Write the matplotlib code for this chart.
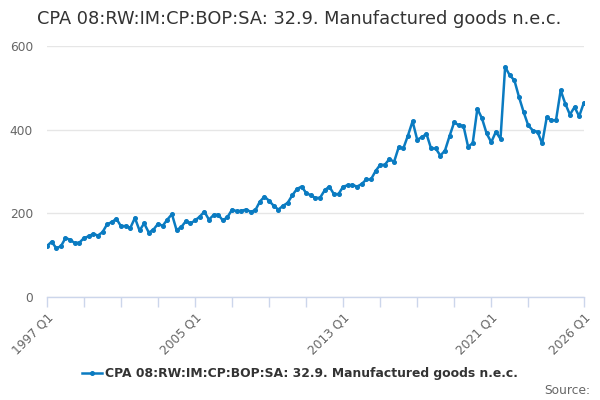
import numpy as np
import matplotlib.pyplot as plt

title = "CPA 08:RW:IM:CP:BOP:SA: 32.9. Manufactured goods n.e.c."

# quarterly periods 1997 Q1 .. 2026 Q1
periods = [f"{y} Q{q}" for y in range(1997, 2027) for q in range(1, 5)][:117]

values = [
    122, 132, 117, 121, 141, 137, 129, 130, 141, 145, 151, 147, 155, 174, 179, 187,
    169, 170, 165, 189, 159, 176, 154, 161, 175, 170, 185, 198, 160, 167, 181, 176,
    183, 192, 204, 185, 196, 197, 183, 191, 209, 205, 206, 209, 204, 207, 228, 240,
    230, 218, 209, 218, 225, 243, 258, 264, 249, 243, 237, 237, 255, 264, 246, 246,
    264, 267, 268, 264, 270, 281, 281, 301, 316, 316, 330, 323, 358, 355, 386, 420,
    376, 382, 390, 355, 355, 338, 350, 385, 418, 410, 409, 359, 368, 450, 427, 391,
    370, 395, 378, 550, 530, 518, 478, 442, 410, 398, 395, 367, 430, 422, 423, 494,
    462, 436, 454, 432, 464,
]

tick_pos = list(range(0, 105, 8)) + [116]
label_periods = ["1997 Q1", "2005 Q1", "2013 Q1", "2021 Q1", "2026 Q1"]

line_color = "#0a7bc1"
axis_color = "#ccd6eb"

fig = plt.figure(figsize=(6, 4), dpi=100)
ax = fig.add_axes([0.0783, 0.2575, 0.8947, 0.6275])

x = np.arange(len(values))
ax.plot(x, values, color=line_color, lw=1.8, marker="o", ms=2.6,
        label=title, zorder=3)

ax.set_xlim(0, len(values) - 1)
ax.set_ylim(0, 600)
ax.set_yticks([0, 200, 400, 600])
ax.yaxis.grid(True, color="#e6e6e6", lw=1)
ax.set_axisbelow(True)

for s in ["top", "right", "left"]:
    ax.spines[s].set_visible(False)
ax.spines["bottom"].set_color(axis_color)
ax.spines["bottom"].set_linewidth(1)

ax.set_xticks(tick_pos)
ax.set_xticklabels([periods[p] if periods[p] in label_periods else "" for p in tick_pos],
                   rotation=45, ha="right", rotation_mode="anchor")
ax.tick_params(axis="x", colors=axis_color, length=7, width=1, labelcolor="#666666",
               labelsize=8.8, pad=3)
ax.tick_params(axis="y", length=0, labelcolor="#666666", labelsize=8.8, pad=10)

fig.text(0.062, 0.952, title, fontsize=12.8, color="#333333", va="center")

fig.legend(loc="center", bbox_to_anchor=(0.5, 0.065), frameon=False,
           prop={"size": 8.9, "weight": "semibold"}, labelcolor="#333333",
           handlelength=1.6, handletextpad=0.3)
fig.text(0.983, 0.025, "Source:", fontsize=8.8, color="#666666", ha="right", va="center")

fig.savefig("out.png", dpi=100)
